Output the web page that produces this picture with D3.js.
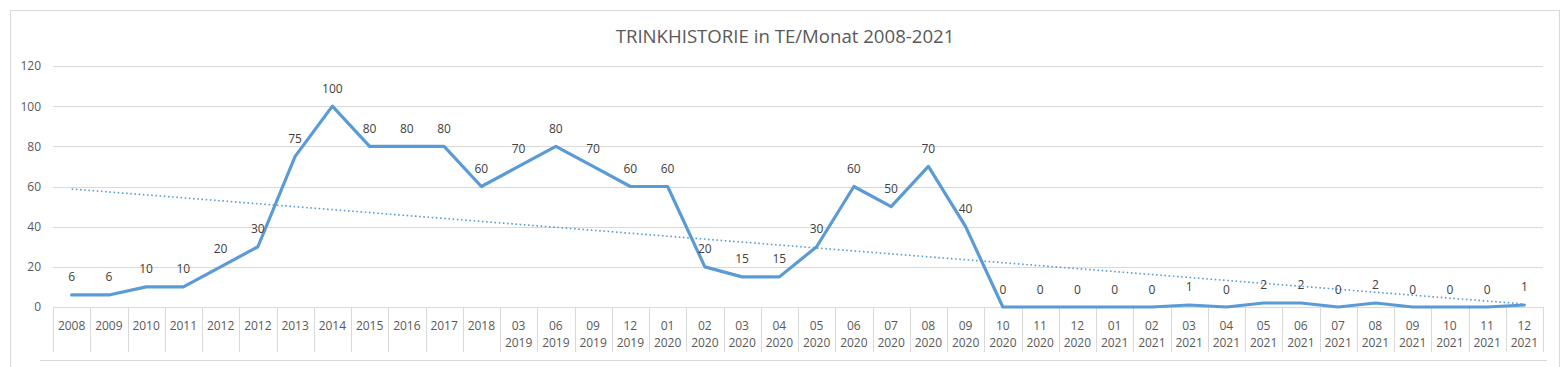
<!DOCTYPE html>
<html>
<head>
<meta charset="utf-8">
<script src="https://cdn.jsdelivr.net/npm/d3@7"></script>
<style>
  html, body { margin: 0; padding: 0; background: #fff; }
  svg { display: block; }
  text { font-family: "Open Sans", "Liberation Sans", sans-serif; }
</style>
</head>
<body>
<svg id="chart" width="1564" height="367"></svg>
<script>
const title = "TRINKHISTORIE in TE/Monat 2008-2021";
const categories = ["2008","2009","2010","2011","2012","2012","2013","2014","2015","2016","2017","2018",
  "03 2019","06 2019","09 2019","12 2019","01 2020","02 2020","03 2020","04 2020","05 2020","06 2020",
  "07 2020","08 2020","09 2020","10 2020","11 2020","12 2020","01 2021","02 2021","03 2021","04 2021",
  "05 2021","06 2021","07 2021","08 2021","09 2021","10 2021","11 2021","12 2021"];
const values = [6,6,10,10,20,30,75,100,80,80,80,60,70,80,70,60,60,20,15,15,30,60,50,70,40,
  0,0,0,0,0,1,0,2,2,0,2,0,0,0,1];
const yTicks = [0,20,40,60,80,100,120];

const svg = d3.select("#chart");
const W = 1564, H = 367;
const plot = {left: 53, right: 1543, top: 66, bottom: 307};
const blue = "#5b9bd5", grid = "#d9d9d9", txt = "#595959";

// outer chart border
svg.append("rect").attr("x", 10.5).attr("y", 10.5).attr("width", 1549).attr("height", 370)
  .attr("fill", "none").attr("stroke", grid).attr("stroke-width", 1);

const x = d3.scaleBand().domain(d3.range(categories.length)).range([plot.left, plot.right]).paddingInner(0).paddingOuter(0);
const y = d3.scaleLinear().domain([0, 120]).range([plot.bottom, plot.top]);

// y axis with gridlines
const yAxis = d3.axisLeft(y).tickValues(yTicks).tickSize(-(plot.right - plot.left)).tickPadding(12);
const gy = svg.append("g").attr("transform", `translate(${plot.left},0)`).call(yAxis);
gy.select(".domain").remove();
gy.selectAll(".tick line").attr("stroke", grid).attr("stroke-width", 1).attr("shape-rendering", "crispEdges");
gy.selectAll(".tick text").attr("fill", txt).attr("font-size", 12).attr("x", -12);

// category separators
const bounds = d3.range(categories.length + 1).map(i => i < categories.length ? x(i) : x(categories.length - 1) + x.bandwidth());
svg.append("g").selectAll("line").data(bounds).join("line")
  .attr("x1", d => Math.round(d) + 0.5).attr("x2", d => Math.round(d) + 0.5)
  .attr("y1", plot.bottom).attr("y2", 352)
  .attr("stroke", grid).attr("stroke-width", 1);

// category labels
const gx = svg.append("g");
categories.forEach((c, i) => {
  const parts = c.split(" ");
  const t = gx.append("text").attr("text-anchor", "middle").attr("fill", txt).attr("font-size", 12)
    .attr("x", x(i) + x.bandwidth() / 2);
  parts.forEach((p, k) => {
    t.append("tspan").attr("x", x(i) + x.bandwidth() / 2).attr("y", 330 + k * 17).text(p);
  });
});

// bottom line
svg.append("line").attr("x1", 40).attr("x2", 1547).attr("y1", 360.5).attr("y2", 360.5)
  .attr("stroke", grid).attr("stroke-width", 1);

const cx = i => x(i) + x.bandwidth() / 2;

// linear trendline (least squares over category index)
const n = values.length;
const xs = d3.range(1, n + 1);
const mx = d3.mean(xs), my = d3.mean(values);
const slope = d3.sum(xs.map((xi, i) => (xi - mx) * (values[i] - my))) / d3.sum(xs.map(xi => (xi - mx) ** 2));
const icpt = my - slope * mx;
svg.append("line")
  .attr("x1", cx(0)).attr("y1", y(icpt + slope * 1))
  .attr("x2", cx(n - 1)).attr("y2", y(icpt + slope * n))
  .attr("stroke", blue).attr("stroke-width", 1.6).attr("stroke-dasharray", "1.6 2.6");

// series line
const line = d3.line().x((d, i) => cx(i)).y(d => y(d));
svg.append("path").datum(values).attr("d", line)
  .attr("fill", "none").attr("stroke", blue).attr("stroke-width", 3.2)
  .attr("stroke-linejoin", "round").attr("stroke-linecap", "round");

// data labels
svg.append("g").selectAll("text").data(values).join("text")
  .attr("x", (d, i) => cx(i)).attr("y", d => y(d) - 13.5)
  .attr("text-anchor", "middle").attr("fill", "#404040").attr("font-size", 12)
  .text(d => d);

// title
const tt = svg.append("text").attr("x", 785).attr("y", 43).attr("text-anchor", "middle")
  .attr("fill", txt).attr("font-size", 18).text(title);
const w = tt.node().getComputedTextLength();
tt.attr("font-size", 18 * 339 / w);
</script>
</body>
</html>
